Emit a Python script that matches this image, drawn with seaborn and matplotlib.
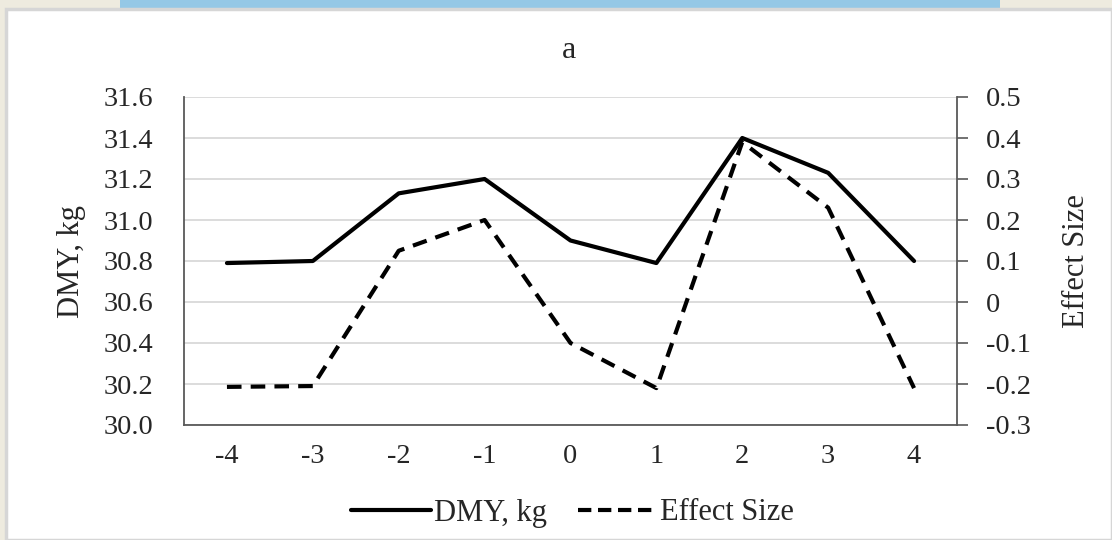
import matplotlib
matplotlib.use("Agg")
import matplotlib.pyplot as plt
from matplotlib.patches import Rectangle
from matplotlib.lines import Line2D
import seaborn as sns
import pandas as pd

# ---- data ----
lags = [-4, -3, -2, -1, 0, 1, 2, 3, 4]
dmy = [30.79, 30.80, 31.13, 31.20, 30.90, 30.79, 31.40, 31.23, 30.80]
effect = [-0.207, -0.205, 0.125, 0.20, -0.10, -0.21, 0.39, 0.23, -0.21]
left_ticks = [30.0, 30.2, 30.4, 30.6, 30.8, 31.0, 31.2, 31.4, 31.6]
right_ticks = [-0.3, -0.2, -0.1, 0.0, 0.1, 0.2, 0.3, 0.4, 0.5]
right_labels = ["-0.3", "-0.2", "-0.1", "0", "0.1", "0.2", "0.3", "0.4", "0.5"]
title = "a"
series_names = ["DMY, kg", "Effect Size"]

sns.set_theme(style="white")
plt.rcParams["font.family"] = ["Liberation Serif", "DejaVu Serif"]
plt.rcParams["axes.unicode_minus"] = False

df = pd.DataFrame({"lag": lags, "dmy": dmy, "effect": effect})

TS = 20.5  # tick font size
LS = 22    # label font size

fig = plt.figure(figsize=(11.12, 5.4), dpi=100)
fig.patch.set_facecolor("#eeebdf")
# decorative page background
fig.patches.append(Rectangle((120 / 1112, 1 - 9 / 540), 880 / 1112, 9 / 540,
                             transform=fig.transFigure, facecolor="#95c8e6",
                             edgecolor="none", zorder=-20))
fig.patches.append(Rectangle((6 / 1112, 0), 1 - 6 / 1112, 1 - 9 / 540,
                             transform=fig.transFigure, facecolor="white",
                             edgecolor="#d6d6d6", linewidth=2.5, zorder=-10))

ax = fig.add_axes([184 / 1112, 1 - 425 / 540, (957 - 184) / 1112, (425 - 97) / 540])
ax.set_facecolor("none")
ax2 = ax.twinx()

sns.lineplot(data=df, x="lag", y="dmy", ax=ax, color="black", linewidth=3.0,
             legend=False)
sns.lineplot(data=df, x="lag", y="effect", ax=ax2, color="black", linewidth=3.0,
             legend=False)
ax2.lines[0].set_dashes((3.5, 2.2))

ax.set_xlim(-4.5, 4.5)
ax.set_ylim(30.0, 31.6)
ax.set_yticks(left_ticks)
ax.set_yticklabels([f"{v:.1f}" for v in left_ticks], fontsize=TS)
ax.set_xticks(lags)
ax.set_xticklabels([str(v) for v in lags], fontsize=TS)
ax.tick_params(axis="y", length=0, pad=22)
ax.tick_params(axis="x", length=0, pad=14)
ax.grid(axis="y", color="#d9d9d9", linewidth=1.3)
ax.set_axisbelow(True)
ax.set_xlabel("")
ax.set_ylabel(series_names[0], fontsize=LS, labelpad=13)

ax2.set_ylim(-0.3, 0.5)
ax2.set_yticks(right_ticks)
ax2.set_yticklabels(right_labels, fontsize=TS)
ax2.tick_params(axis="y", length=8, width=1.2, direction="out", pad=13,
                color="#595959", right=True)
ax2.set_ylabel(series_names[1], fontsize=LS, labelpad=22)
ax2.grid(False)

for a in (ax, ax2):
    a.spines["top"].set_visible(False)
    for s in ("left", "right", "bottom"):
        a.spines[s].set_color("#595959")
        a.spines[s].set_linewidth(1.3)
ax.spines["right"].set_visible(False)
ax2.spines["left"].set_visible(False)
ax2.spines["bottom"].set_visible(False)

fig.text(0.512, 1 - 50 / 540, title, ha="center", va="center", fontsize=23)

handles = [Line2D([], [], color="black", linewidth=3.0),
           Line2D([], [], color="black", linewidth=3.0, dashes=(3.2, 1.6))]
fig.legend(handles, series_names, loc="center", bbox_to_anchor=(0.515, 1 - 513 / 540),
           ncol=2, frameon=False, fontsize=LS, handlelength=2.6, handletextpad=0.1,
           columnspacing=1.0)

fig.savefig("out.png", dpi=100, facecolor=fig.get_facecolor())
